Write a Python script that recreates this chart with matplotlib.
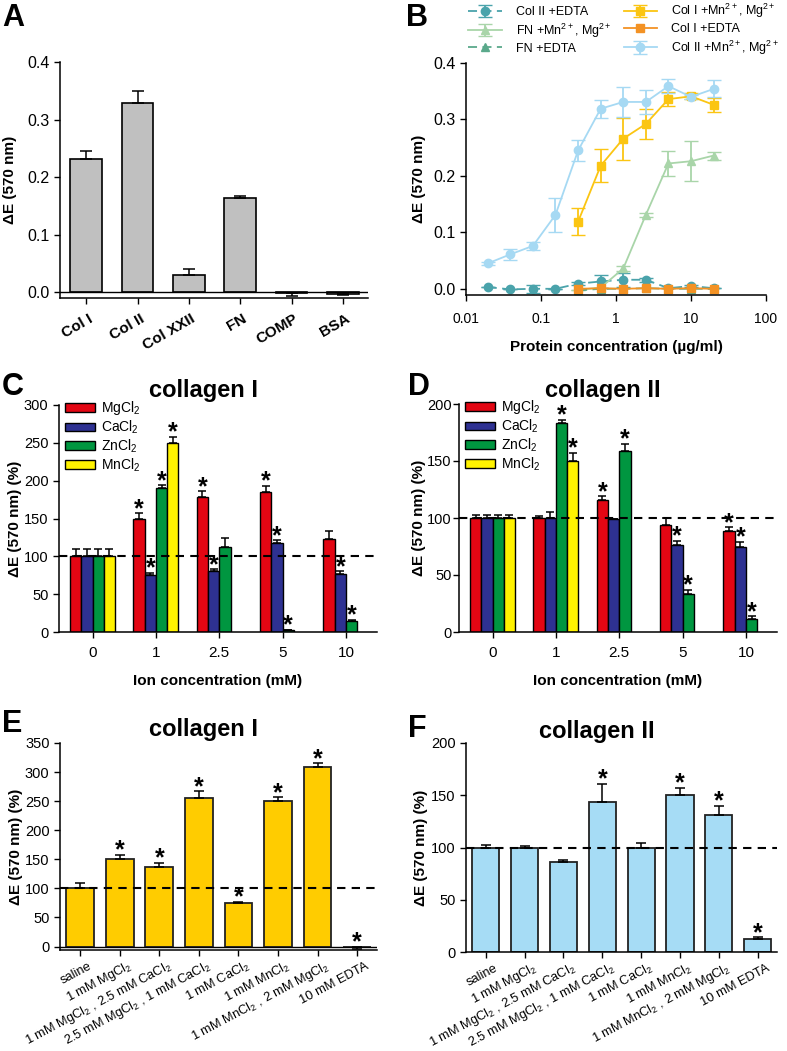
import numpy as np
import matplotlib
matplotlib.use("Agg")
import matplotlib.pyplot as plt
import matplotlib.transforms as mtrans
from matplotlib.patches import Patch

plt.rcParams['font.family'] = ['Liberation Sans', 'DejaVu Sans']
plt.rcParams['mathtext.fontset'] = 'custom'
plt.rcParams['mathtext.rm'] = 'Liberation Sans'
plt.rcParams['mathtext.it'] = 'Liberation Sans:italic'
plt.rcParams['mathtext.bf'] = 'Liberation Sans:bold'

# ---- panel A: binding to matrix proteins
a_labels = ['Col I', 'Col II', 'Col XXII', 'FN', 'COMP', 'BSA']
a_vals = [0.231, 0.328, 0.030, 0.164, -0.002, -0.003]
a_err = [0.014, 0.022, 0.010, 0.004, 0.005, 0.002]

# ---- panel B: titration curves
conc = [0.0195, 0.039, 0.078, 0.156, 0.3125, 0.625, 1.25, 2.5, 5, 10, 20]
col2_edta = [0.003, -0.001, 0.000, 0.000, 0.009, 0.013, 0.016, 0.016, 0.001, 0.005, 0.001]
col2_edta_err = [0, 0, 0.007, 0, 0.003, 0.012, 0.012, 0.004, 0, 0.002, 0]
fn_mn = [-0.002, 0.002, 0.036, 0.131, 0.222, 0.226, 0.236]
fn_mn_err = [0, 0, 0.005, 0.003, 0.022, 0.035, 0.007]
fn_edta = [-0.003, 0.000, 0.000, 0.001, 0.000, 0.000, 0.000]
col1_mn = [0.119, 0.218, 0.266, 0.292, 0.336, 0.341, 0.326]
col1_mn_err = [0.024, 0.029, 0.037, 0.027, 0.013, 0.005, 0.012]
col1_edta = [0.000, 0.001, 0.000, 0.001, 0.000, 0.001, 0.000]
col2_mn = [0.045, 0.061, 0.076, 0.131, 0.245, 0.319, 0.331, 0.331, 0.359, 0.340, 0.354]
col2_mn_err = [0.002, 0.010, 0.007, 0.030, 0.019, 0.016, 0.027, 0.022, 0.013, 0.003, 0.015]

# ---- panels C/D: single ions
ion_conc = ['0', '1', '2.5', '5', '10']
ion_names = ['MgCl$_2$', 'CaCl$_2$', 'ZnCl$_2$', 'MnCl$_2$']
ion_colors = ['#e30613', '#2e3192', '#009640', '#fff200']
c_vals = [[100, 150, 179, 185, 123],
          [100, 75, 80, 118, 76],
          [100, 190, 112, 2, 14],
          [100, 250, np.nan, np.nan, np.nan]]
c_err = [[10, 7, 7, 8, 10],
         [10, 3, 3, 3, 4],
         [10, 4, 12, 1, 2],
         [10, 8, 0, 0, 0]]
c_star = [[0, 1, 1, 1, 0],
          [0, 1, 1, 1, 1],
          [0, 1, 0, 1, 1],
          [0, 1, 0, 0, 0]]
d_vals = [[100, 100, 116, 94, 89],
          [100, 100, 99, 76, 75],
          [100, 183, 159, 33, 11],
          [100, 150, np.nan, np.nan, np.nan]]
d_err = [[3, 2, 3, 6, 3],
         [3, 5, 0, 4, 4],
         [3, 3, 6, 4, 3],
         [3, 7, 0, 0, 0]]
d_star = [[0, 0, 1, 0, 1],
          [0, 0, 0, 1, 1],
          [0, 1, 1, 1, 1],
          [0, 1, 0, 0, 0]]

# ---- panels E/F: ion combinations
combo_labels = ['saline', '1 mM MgCl$_2$', '1 mM MgCl$_2$ , 2.5 mM CaCl$_2$',
                '2.5 mM MgCl$_2$ , 1 mM CaCl$_2$', '1 mM CaCl$_2$', '1 mM MnCl$_2$',
                '1 mM MnCl$_2$ , 2 mM MgCl$_2$', '10 mM EDTA']
e_vals = [100, 151, 136, 256, 75, 250, 308, -1]
e_err = [10, 7, 8, 11, 2, 7, 7, 3]
e_star = [0, 1, 1, 1, 1, 1, 1, 1]
f_vals = [100, 100, 86, 144, 100, 150, 131, 12]
f_err = [2, 1, 2, 17, 4, 7, 9, 2]
f_star = [0, 0, 0, 1, 0, 1, 1, 1]

W, H = 787, 1051
fig = plt.figure(figsize=(W / 100, H / 100), dpi=100)


def add_ax(l, t, r, b):
    return fig.add_axes([l / W, 1 - b / H, (r - l) / W, (b - t) / H])


def style(ax, ysize=10.5):
    for s in ['top', 'right']:
        ax.spines[s].set_visible(False)
    for s in ['left', 'bottom']:
        ax.spines[s].set_linewidth(1.1)
    ax.tick_params(direction='out', length=4, width=1, labelsize=ysize)


def fig_text(x, y, s, **kw):
    fig.text(x / W, 1 - y / H, s, **kw)


def set_ylabel(ax, text, right_px, rect_l, rect_w):
    # right_px: where the right edge of the rotated label sits, in figure pixels
    ax.set_ylabel(text, fontsize=11, fontweight='bold')
    ax.yaxis.set_label_coords((right_px - rect_l) / rect_w, 0.5)


def split_err(vals, errs):
    lo = [e if v < 0 else 0 for v, e in zip(vals, errs)]
    hi = [0 if v < 0 else e for v, e in zip(vals, errs)]
    return [lo, hi]


def add_stars(ax, xs, vals, errs, flags):
    for x, v, e, f in zip(xs, vals, errs, flags):
        if f:
            top = max(v, 0) + (e if v >= 0 else 0)
            ax.annotate('*', (x, top), xytext=(0, -2), textcoords='offset points',
                        ha='center', va='baseline', fontsize=18, fontweight='bold')


ebar_kw = dict(elinewidth=1.1, capthick=1.1, ecolor='black')

# ================= A =================
ax = add_ax(60, 62, 368, 298)
xa = np.arange(len(a_labels))
ax.bar(xa, a_vals, width=0.62, color='#c0c0c0', edgecolor='black', linewidth=1.2,
       yerr=split_err(a_vals, a_err), capsize=4, error_kw=ebar_kw)
ax.axhline(0, color='black', lw=1)
ax.set_xlim(-0.51, 5.49)
ax.set_ylim(-0.01, 0.4)
ax.set_yticks([0, 0.1, 0.2, 0.3, 0.4])
ax.set_yticklabels(['0.0', '0.1', '0.2', '0.3', '0.4'])
style(ax, 11.5)
ax.set_xticks(xa)
ax.set_xticklabels(a_labels, rotation=30, ha='right', va='center', rotation_mode='anchor',
                   fontsize=11, fontweight='bold')
ax.tick_params(axis='x', pad=10)
for lab in ax.get_xticklabels():
    lab.set_transform(lab.get_transform() + mtrans.ScaledTranslation(4 / 72, 0, fig.dpi_scale_trans))
set_ylabel(ax, 'ΔE (570 nm)', 17, 60, 308)
fig_text(2, 26, 'A', fontsize=22, fontweight='bold', va='baseline')

# ================= B =================
ax = add_ax(466, 63, 766, 295)
n7 = conc[4:]
ax.errorbar(conc, col2_edta, yerr=col2_edta_err, color='#4aa3ab', marker='o', ms=6,
            lw=1.3, ls=(0, (5, 3)), capsize=5, label='Col II +EDTA')
ax.errorbar(n7, fn_mn, yerr=fn_mn_err, color='#a9d5a9', marker='^', ms=6,
            lw=1.3, capsize=5, label='FN +Mn$^{2+}$, Mg$^{2+}$')
ax.errorbar(n7, fn_edta, color='#5aa98b', marker='^', ms=6,
            lw=1.3, ls=(0, (5, 3)), label='FN +EDTA')
ax.errorbar(n7, col1_mn, yerr=col1_mn_err, color='#fbc512', marker='s', ms=6,
            lw=1.3, capsize=5, label='Col I +Mn$^{2+}$, Mg$^{2+}$')
ax.errorbar(n7, col1_edta, color='#f39224', marker='s', ms=6,
            lw=1.3, label='Col I +EDTA')
ax.errorbar(conc, col2_mn, yerr=col2_mn_err, color='#a6d9f3', marker='o', ms=6,
            lw=1.3, capsize=5, label='Col II +Mn$^{2+}$, Mg$^{2+}$')
ax.set_xscale('log')
ax.set_xlim(0.01, 100)
ax.set_ylim(-0.011, 0.4)
ax.set_xticks([0.01, 0.1, 1, 10, 100])
ax.set_xticklabels(['0.01', '0.1', '1', '10', '100'])
ax.minorticks_off()
ax.set_yticks([0, 0.1, 0.2, 0.3, 0.4])
ax.set_yticklabels(['0.0', '0.1', '0.2', '0.3', '0.4'])
style(ax, 11.5)
ax.tick_params(axis='x', pad=8, labelsize=10)
ax.set_xlabel('Protein concentration (µg/ml)', fontsize=11, fontweight='bold', labelpad=10)
set_ylabel(ax, 'ΔE (570 nm)', 426, 466, 300)
ax.legend(loc='upper left', bbox_to_anchor=(468 / W, 1 - 2 / H), bbox_transform=fig.transFigure,
          ncol=2, frameon=False, fontsize=9, handlelength=2.7, handletextpad=1.1,
          columnspacing=1.0, labelspacing=0.25, borderpad=0, borderaxespad=0)
fig_text(406, 26, 'B', fontsize=22, fontweight='bold', va='baseline')


# ================= C / D =================
def ion_panel(rect, vals, errs, stars, ymax, yticks, title, title_x, letter, letter_x, ylab_x, ypad):
    ax = add_ax(*rect)
    xg = np.arange(len(ion_conc))
    w = 0.178
    for i in range(4):
        xs = xg + (i - 1.5) * w
        v = np.array(vals[i], dtype=float)
        ax.bar(xs, v, width=w, color=ion_colors[i], edgecolor='black', linewidth=1,
               yerr=[np.zeros(len(v)), errs[i]], capsize=3, error_kw=ebar_kw,
               label=ion_names[i])
        add_stars(ax, xs, v, errs[i], stars[i])
    ax.axhline(100, color='black', lw=1.5, ls=(0, (4, 3)), zorder=5)
    ax.set_xlim(-0.53, 4.49)
    ax.set_ylim(0, ymax)
    ax.set_yticks(yticks)
    style(ax)
    ax.tick_params(axis='y', pad=ypad)
    ax.set_xticks(xg)
    ax.set_xticklabels(ion_conc)
    ax.tick_params(axis='x', labelsize=11, pad=6)
    ax.set_xlabel('Ion concentration (mM)', fontsize=11, fontweight='bold', labelpad=10)
    set_ylabel(ax, 'ΔE (570 nm) (%)', ylab_x, rect[0], rect[2] - rect[0])
    handles = [Patch(facecolor=c, edgecolor='black', linewidth=1) for c in ion_colors]
    ax.legend(handles, ion_names, loc='upper left', bbox_to_anchor=(0.02, 1.025), frameon=False,
              fontsize=10, handlelength=2.1, handleheight=0.55, handletextpad=0.5,
              labelspacing=0.1, borderpad=0, borderaxespad=0)
    fig_text(title_x, 397, title, fontsize=17, fontweight='bold', ha='center', va='baseline')
    fig_text(letter_x, 395, letter, fontsize=22, fontweight='bold', va='baseline')


ion_panel((59, 405, 377, 632), c_vals, c_err, c_star, 300, [0, 50, 100, 150, 200, 250, 300],
          'collagen I', 203, 'C', 2, 22, 3.5)
ion_panel((459, 404, 777, 632), d_vals, d_err, d_star, 200, [0, 50, 100, 150, 200],
          'collagen II', 603, 'D', 408, 426, 1.2)


# ================= E / F =================
def combo_panel(rect, vals, errs, stars, color, ylim, yticks, title, title_x, title_y,
                letter, letter_x, letter_y, ylab_x):
    ax = add_ax(*rect)
    xs = np.arange(len(combo_labels))
    ax.bar(xs, vals, width=0.7, color=color, edgecolor='#222222', linewidth=1.3,
           yerr=split_err(vals, errs), capsize=3.5, error_kw=ebar_kw)
    add_stars(ax, xs, vals, errs, stars)
    ax.axhline(100, color='black', lw=1.5, ls=(0, (4, 3)), zorder=5)
    if ylim[0] < 0:
        ax.axhline(0, color='black', lw=1)
    ax.set_xlim(-0.51, 7.5)
    ax.set_ylim(*ylim)
    ax.set_yticks(yticks)
    style(ax)
    ax.set_xticks(xs)
    ax.set_xticklabels(combo_labels, rotation=28, ha='right', va='center',
                       rotation_mode='anchor', fontsize=9.3)
    ax.tick_params(axis='x', pad=7)
    for lab in ax.get_xticklabels():
        lab.set_transform(lab.get_transform() + mtrans.ScaledTranslation(8 / 72, 0, fig.dpi_scale_trans))
    set_ylabel(ax, 'ΔE (570 nm) (%)', ylab_x, rect[0], rect[2] - rect[0])
    fig_text(title_x, title_y, title, fontsize=17, fontweight='bold', ha='center', va='baseline')
    fig_text(letter_x, letter_y, letter, fontsize=22, fontweight='bold', va='baseline')


combo_panel((60, 743, 377, 950), e_vals, e_err, e_star, '#ffcc00', (-6, 350),
            [0, 50, 100, 150, 200, 250, 300, 350], 'collagen I', 203, 736, 'E', 2, 732, 23)
combo_panel((466, 743, 777, 952), f_vals, f_err, f_star, '#a6dcf5', (0, 200),
            [0, 50, 100, 150, 200], 'collagen II', 597, 738, 'F', 408, 737, 428)

fig.savefig('out.png', dpi=100)
